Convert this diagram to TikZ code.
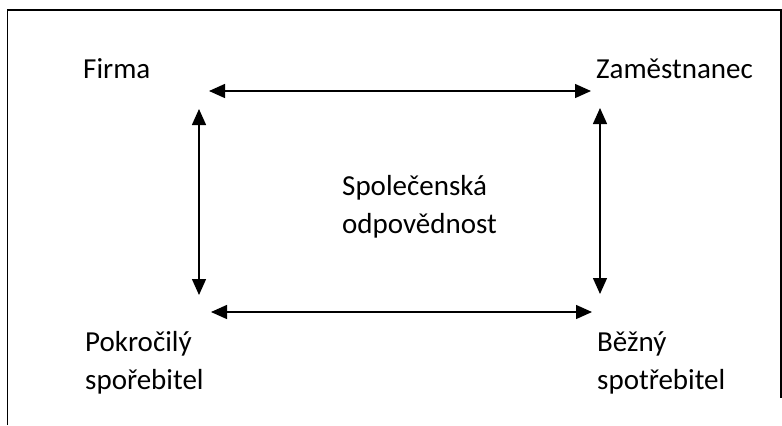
\documentclass[tikz,border=0pt]{standalone}
\usepackage{fontspec}
\setmainfont{Carlito}
\usetikzlibrary{arrows.meta}
\tikzset{
  lbl/.style={inner sep=0pt, anchor=base west, align=left, font=\fontsize{29bp}{38bp}\selectfont},
  conn/.style={line width=1.4bp, {Triangle[length=16bp,width=14bp]}-{Triangle[length=16bp,width=14bp]}},
  frame/.style={line width=1.4bp}
}
\begin{document}
\begin{tikzpicture}[x=1bp,y=-1bp]
\useasboundingbox (0,0) rectangle (782,425);
% frame
\coordinate (fbl) at (7.5,425);
\coordinate (ftl) at (7.5,10);
\coordinate (ftr) at (781,10);
\coordinate (fbr) at (781,398);
\draw[frame] (fbl) -- (ftl) -- (ftr) -- (fbr);
% labels
\node[lbl] (firma) at (83,78) {Firma};
\node[lbl] (zam) at (596,78) {Zaměstnanec};
\node[lbl] (pok) at (85,351) {Pokročilý};
\node[lbl] (pok2) at (85,389) {spořebitel};
\node[lbl] (bez) at (597,351) {Běžný};
\node[lbl] (bez2) at (597,389) {spotřebitel};
\node[lbl] (spol) at (342,195) {Společenská};
\node[lbl] (spol2) at (342,233) {odpovědnost};
% arrow endpoints
\coordinate (t1) at (209,91);
\coordinate (t2) at (591,91);
\coordinate (b1) at (211,312);
\coordinate (b2) at (592,312);
\coordinate (l1) at (199,109);
\coordinate (l2) at (199,295);
\coordinate (r1) at (600,108);
\coordinate (r2) at (600,294);
\draw[conn] (t1) -- (t2);
\draw[conn] (b1) -- (b2);
\draw[conn] (l1) -- (l2);
\draw[conn] (r1) -- (r2);
\end{tikzpicture}
\end{document}
